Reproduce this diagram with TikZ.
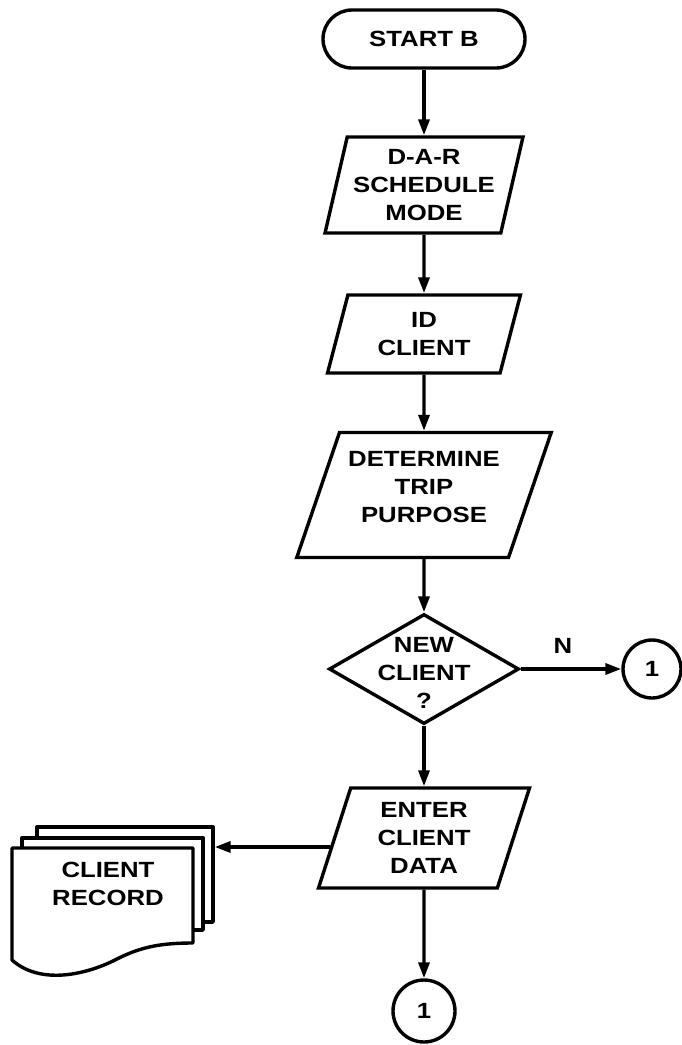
\documentclass[tikz,border=0pt]{standalone}
\usepackage{fontspec}
\setmainfont{Liberation Sans}[FakeStretch=1.17]
\usetikzlibrary{shapes.geometric,arrows.meta,calc}
\begin{document}
\begin{tikzpicture}[x=1pt,y=-1pt,
  every node/.style={font=\bfseries\fontsize{22}{28}\selectfont, align=center},
  ln/.style={line width=3.4pt},
  arr/.style={ln,-{Triangle[length=16pt,width=11pt]}},
  io/.style={draw,ln,trapezium,trapezium left angle=74,trapezium right angle=106,trapezium stretches=true,inner sep=0pt},
  term/.style={draw,ln,rectangle,rounded corners=29pt,minimum width=202pt,minimum height=58pt},
  decision/.style={draw,ln,diamond,minimum width=190pt,minimum height=110pt,inner sep=0pt},
  conn/.style={draw,ln,circle,inner sep=0pt},
  sheet/.style={draw,ln,fill=white,line join=round}
]
\useasboundingbox (0,0) rectangle (682,1045);

\node[term] (start) at (424,39) {START B};
\node[io,minimum width=198pt,minimum height=96pt] (dar) at (424,185) {D-A-R\\SCHEDULE\\MODE};
\node[io,minimum width=193pt,minimum height=78pt] (id) at (424,334) {ID\\CLIENT};
\node[io,minimum width=255pt,minimum height=125pt] (det) at (424,495) {\phantom{X}};
\node (dett) at (424,487) {DETERMINE\\TRIP\\PURPOSE};
\node[decision] (dec) at (424,669) {};
\node (dect) at (424,673) {NEW\\CLIENT\\?};
\node[conn,minimum size=58pt] (c1) at (652,669) {1};
\node (nlab) at (563,646) {N};
\node[io,minimum width=211pt,minimum height=100pt] (enter) at (424,838) {ENTER\\CLIENT\\DATA};
\node[conn,minimum size=62pt] (c2) at (424,1011) {1};

% document stack
\node[sheet,rectangle,minimum width=176pt,minimum height=95pt,inner sep=0pt] (recback) at (125,874.5) {};
\node[sheet,rectangle,minimum width=181pt,minimum height=92pt,inner sep=0pt] (recmid) at (112.5,884) {};
\path[sheet] (12,848) -- (193,848) -- (193,943)
  .. controls (160,943) and (140,947) .. (115,960)
  .. controls (85,975) and (40,985) .. (12,960) -- cycle;
\node (rec) at (108,884) {CLIENT\\RECORD};

% connectors
\draw[arr] (start) -- (dar);
\draw[arr] (dar) -- (id);
\draw[arr] (id) -- (det);
\draw[arr] (det) -- (dec);
\draw[arr] (dec) -- (c1);
\draw[arr] (dec) -- (enter);
\draw[arr] (enter) -- (c2);
\coordinate (eL) at ([xshift=-2.5pt,yshift=-9pt]enter.west);
\draw[arr] (eL) -- (eL -| recback.east);
\end{tikzpicture}
\end{document}
